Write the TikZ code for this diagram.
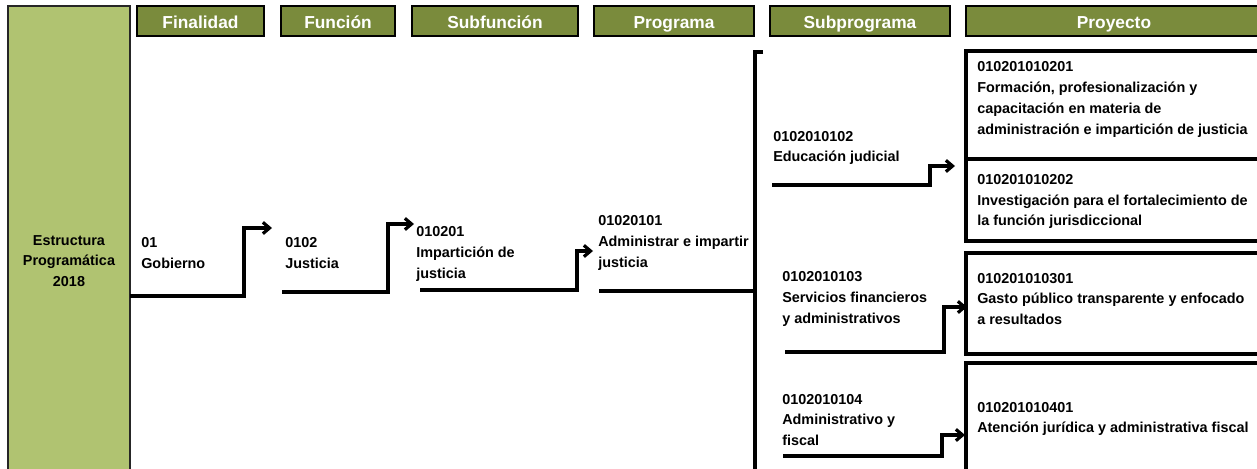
\documentclass[tikz,border=0pt]{standalone}
\usepackage{fontspec}
\setmainfont{Liberation Sans}
\usetikzlibrary{arrows.meta,positioning}
\definecolor{cabeza}{RGB}{122,139,60}
\definecolor{lateral}{RGB}{176,195,113}
\tikzset{every cabecera/.style={draw=black,line width=1.5pt,fill=cabeza},
        every textocab/.style={text=white,inner sep=0pt,text height=11.2pt,text depth=0pt,
                               font=\bfseries\fontsize{13}{15}\selectfont},
        every texto/.style={anchor=west,align=left,inner sep=0pt,
                            font=\bfseries\fontsize{10.8}{15.6}\selectfont},
        every proyecto/.style={draw=black,line width=2.5pt},
        flecha/.style={line width=2.4pt,-{Straight Barb[length=5pt,width=8.5pt]}},
        raya/.style={line width=2.4pt},
        }

\begin{document}
\begin{tikzpicture}[x=0.75pt,y=-0.75pt]
    \useasboundingbox (0,0) rectangle (1257,468);
    \clip (0,0) rectangle (1257,468);

    \draw[draw=black!85,line width=1pt,fill=lateral] (8,6) rectangle (130,480);
    \node[every texto,anchor=center,align=center] (estr) at (69,261)
        {Estructura\\Programática\\2018};

    \draw[every cabecera] (137,6) rectangle (264,36)
        node[midway,every textocab] (hfin) {Finalidad};
    \draw[every cabecera] (281,6) rectangle (395,36)
        node[midway,every textocab] (hfun) {Función};
    \draw[every cabecera] (412,6) rectangle (578,36)
        node[midway,every textocab] (hsfun) {Subfunción};
    \draw[every cabecera] (594,6) rectangle (754,36)
        node[midway,every textocab] (hprog) {Programa};
    \draw[every cabecera] (770,6) rectangle (950,36)
        node[midway,every textocab] (hsprog) {Subprograma};
    \draw[every cabecera] (966,6) rectangle (1262,36)
        node[midway,every textocab] (hproy) {Proyecto};

    \node[every texto] (fin) at (141,253) {01\\Gobierno};
    \node[every texto] (fun) at (285,253) {0102\\Justicia};
    \node[every texto] (sfun) at (416,254) {010201\\Impartición de\\justicia};
    \node[every texto] (prog) at (598,243) {01020101\\Administrar e impartir\\justicia};

    \node[every texto] (sp1) at (773,148) {0102010102\\Educación judicial};
    \node[every texto] (sp2) at (782,299) {0102010103\\Servicios financieros\\y administrativos};
    \node[every texto] (sp3) at (782,420) {0102010104\\Administrativo y\\fiscal};

    \draw[every proyecto] (966,51) rectangle (1265,159);
    \draw[every proyecto] (966,159) rectangle (1265,241);
    \draw[every proyecto] (966,253) rectangle (1265,354);
    \draw[every proyecto] (966,363) rectangle (1265,480);
    \node[every texto] (py1) at (977,99.5) {010201010201\\Formación, profesionalización y\\capacitación en materia de\\administración e impartición de justicia};
    \node[every texto] (py2) at (977,201.5) {010201010202\\Investigación para el fortalecimiento de\\la función jurisdiccional};
    \node[every texto] (py3) at (977,299) {010201010301\\Gasto público transparente y enfocado\\a resultados};
    \node[every texto] (py4) at (977,419) {010201010401\\Atención jurídica y administrativa fiscal};

    \coordinate (s1) at (130,296);
    \coordinate (k1) at (244,228);
    \coordinate (e1) at (272,228);
    \coordinate (s2) at (282,292);
    \coordinate (k2) at (388,224);
    \coordinate (e2) at (414,224);
    \coordinate (s3) at (420,290);
    \coordinate (k3) at (577,251);
    \coordinate (e3) at (593,251);
    \coordinate (s4) at (599,291);
    \coordinate (llave) at (755,52);
    \coordinate (s5) at (772,185);
    \coordinate (k5) at (930,166);
    \coordinate (e5) at (955,166);
    \coordinate (s6) at (785,352);
    \coordinate (k6) at (944,307);
    \coordinate (e6) at (967,307);
    \coordinate (s7) at (783,456);
    \coordinate (k7) at (942,435);
    \coordinate (e7) at (965,435);

    \draw[flecha] (s1) -| (k1) -- (e1);
    \draw[flecha] (s2) -| (k2) -- (e2);
    \draw[flecha] (s3) -| (k3) -- (e3);
    \draw[raya] (s4) -- (s4 -| llave);
    \draw[raya] ([xshift=8*0.75pt]llave) -- (llave) -- ++(0,430);
    \draw[flecha] (s5) -| (k5) -- (e5);
    \draw[flecha] (s6) -| (k6) -- (e6);
    \draw[flecha] (s7) -| (k7) -- (e7);
\end{tikzpicture}
\end{document}
